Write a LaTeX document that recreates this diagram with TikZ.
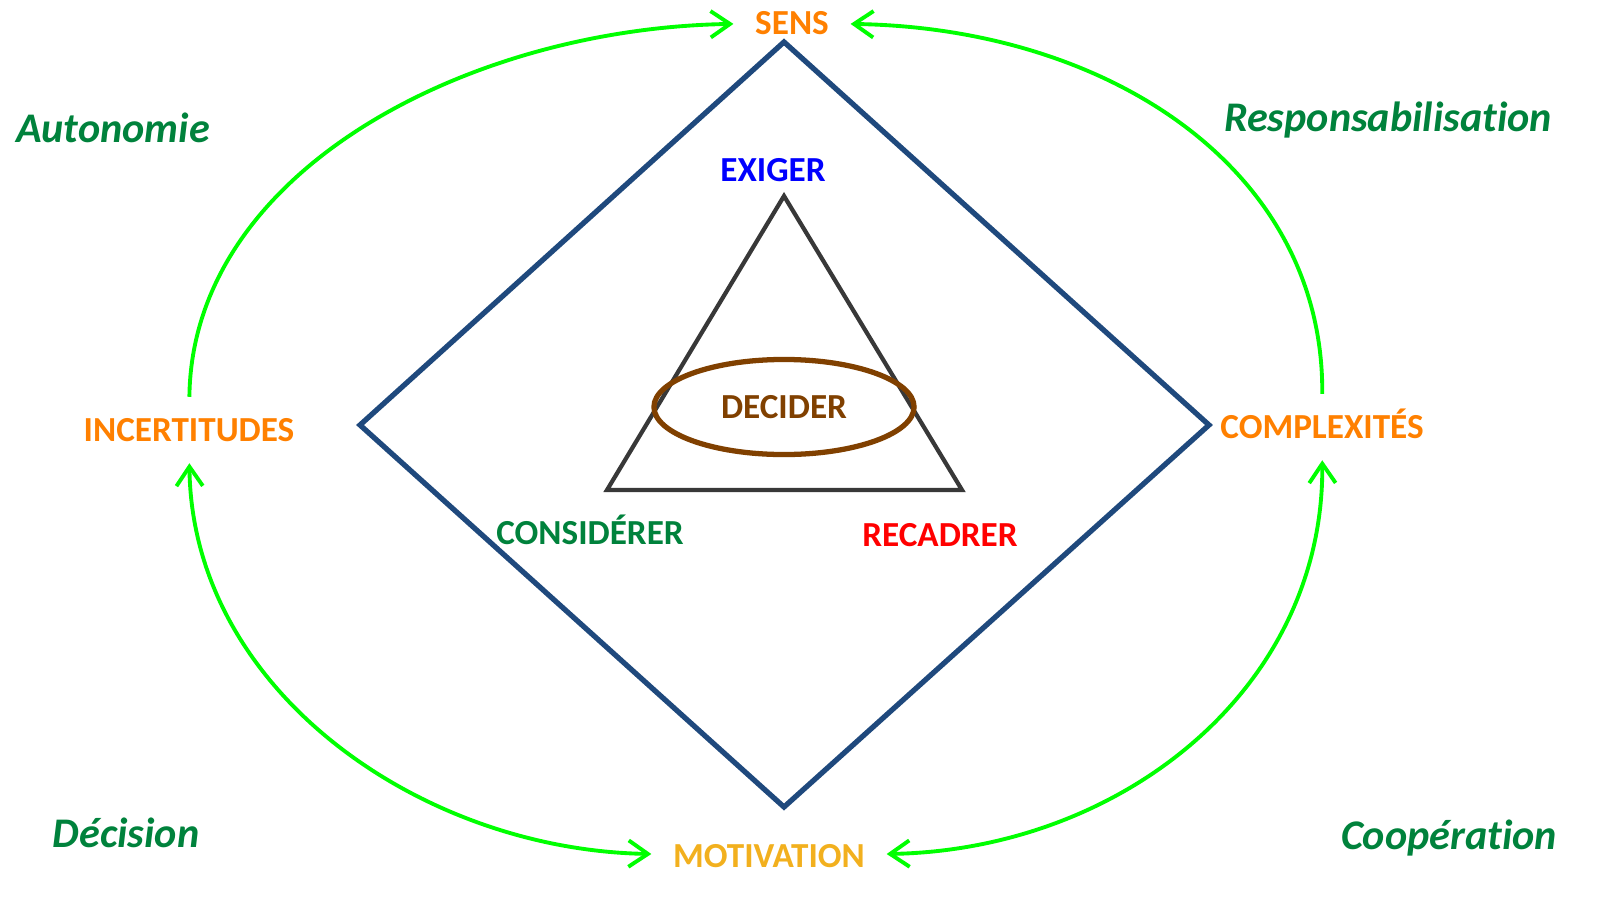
\documentclass[tikz,border=0pt]{standalone}
\usepackage{fontspec}
\setmainfont{Carlito}[Ligatures=CommonOff]
\usetikzlibrary{arrows.meta,shapes.geometric}
\definecolor{rhombblue}{RGB}{31,73,125}
\definecolor{trigray}{RGB}{56,56,56}
\definecolor{decbrown}{RGB}{128,64,0}
\definecolor{linkgreen}{RGB}{0,255,0}
\definecolor{poleorange}{RGB}{255,128,0}
\definecolor{motivgold}{RGB}{242,176,30}
\definecolor{darkgreen}{RGB}{0,130,60}
\begin{document}
\begin{tikzpicture}[x=0.01cm,y=-0.01cm]
\tikzset{verb/.style = {font=\fontsize{10}{12}\selectfont\bfseries,text height=6.5pt,text depth=0pt,inner sep=0pt}}
\tikzset{pole/.style = {verb,inner sep=6pt}}
\tikzset{quality/.style = {font=\fontsize{12}{14}\selectfont\bfseries\itshape,text=darkgreen,inner sep=0pt}}
\tikzset{link/.style = {draw=linkgreen,line width=1.1pt,>={Straight Barb[length=5.5pt,width=7.5pt]}}}
\useasboundingbox (0,0) rectangle (1597,897);
% shapes
\draw[rhombblue,line width=1.5pt,line join=miter] (784,42) -- (1209,425) -- (784,807) -- (360,425) -- cycle;
\draw[trigray,line width=1.2pt,line join=miter] (784,196) -- (962,490) -- (607,490) -- cycle;
% vertices
\node[pole,text=poleorange] (sens) at (792,23) {SENS};
\node[pole,text=poleorange] (incert) at (189,430) {INCERTITUDES};
\node[pole,text=poleorange] (complex) at (1322,427) {COMPLEXITÉS};
\node[pole,text=motivgold] (motiv) at (769,856) {MOTIVATION};
\node[verb,text=blue] (exiger) at (773,170) {EXIGER};
\node[verb,text=darkgreen] (considerer) at (590,533) {CONSIDÉRER};
\node[verb,text=red] (recadrer) at (940,535) {RECADRER};
\node[verb,ellipse,draw=decbrown,line width=1.5pt,minimum width=2.6cm,minimum height=0.95cm,text=decbrown] (decider) at (784,407) {DECIDER};
\node[quality] (autonomie) at (113,128) {Autonomie};
\node[quality] (respons) at (1388,120) {Responsabilisation};
\node[quality] (decision) at (126,833) {Décision};
\node[quality] (cooperation) at (1449,838) {Coopération};
%edges
\draw[link,->] (incert) .. controls (192,170) and (470,28) .. (sens);
\draw[link,->] (complex) .. controls (1324,170) and (1110,28) .. (sens);
\draw[link,<->] (incert) .. controls (192,690) and (420,850) .. (motiv);
\draw[link,<->] (complex) .. controls (1324,690) and (1120,850) .. (motiv);
\end{tikzpicture}
\end{document}
